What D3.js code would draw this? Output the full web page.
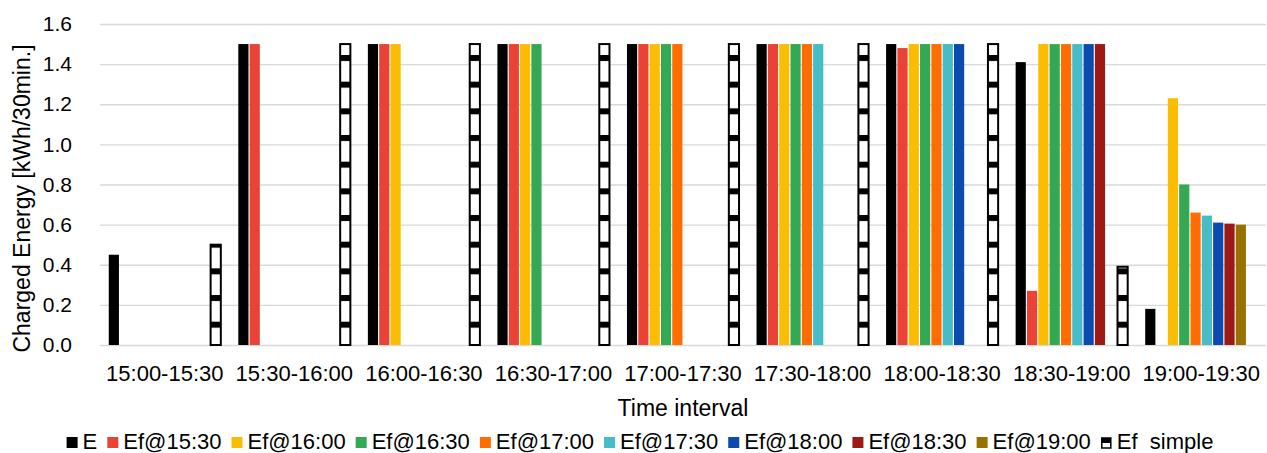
<!DOCTYPE html>
<html>
<head>
<meta charset="utf-8">
<script src="https://cdn.jsdelivr.net/npm/d3@7"></script>
<style>
  html, body { margin: 0; padding: 0; background: #fff; }
  svg { display: block; font-family: "Liberation Sans", Arial, sans-serif; }
</style>
</head>
<body>
<svg id="chart" width="1267" height="453"></svg>
<script>
// Half-hour charging intervals
const categories = ["15:00-15:30", "15:30-16:00", "16:00-16:30", "16:30-17:00", "17:00-17:30",
                    "17:30-18:00", "18:00-18:30", "18:30-19:00", "19:00-19:30"];

// Series names (legend order) and their values per interval; null = no bar
const seriesNames = ["E", "Ef@15:30", "Ef@16:00", "Ef@16:30", "Ef@17:00",
                     "Ef@17:30", "Ef@18:00", "Ef@18:30", "Ef@19:00", "Ef  simple"];

const valE      = [0.45, 1.5, 1.5, 1.5, 1.5, 1.5, 1.5, 1.41, 0.18];
const valEf1530 = [null, 1.5, 1.5, 1.5, 1.5, 1.5, 1.48, 0.27, null];
const valEf1600 = [null, null, 1.5, 1.5, 1.5, 1.5, 1.5, 1.5, 1.23];
const valEf1630 = [null, null, null, 1.5, 1.5, 1.5, 1.5, 1.5, 0.80];
const valEf1700 = [null, null, null, null, 1.5, 1.5, 1.5, 1.5, 0.66];
const valEf1730 = [null, null, null, null, null, 1.5, 1.5, 1.5, 0.645];
const valEf1800 = [null, null, null, null, null, null, 1.5, 1.5, 0.61];
const valEf1830 = [null, null, null, null, null, null, null, 1.5, 0.605];
const valEf1900 = [null, null, null, null, null, null, null, null, 0.60];
const valSimple = [0.50, 1.5, 1.5, 1.5, 1.5, 1.5, 1.5, 0.39, null];

const seriesValues = [valE, valEf1530, valEf1600, valEf1630, valEf1700,
                      valEf1730, valEf1800, valEf1830, valEf1900, valSimple];

const yTicks = [0, 0.2, 0.4, 0.6, 0.8, 1.0, 1.2, 1.4, 1.6];

const colors = ["#000000", "#ea4335", "#fbbc04", "#34a853", "#ff6d01",
                "#46bdc6", "#0b4bae", "#9b1b14", "#997100", "url(#stripes)"];

const svg = d3.select("#chart");
const plot = { left: 100, right: 1266, top: 24, bottom: 345 };

// Horizontal stripe pattern for the "simple" series
const defs = svg.append("defs");
const pat = defs.append("pattern")
  .attr("id", "stripes")
  .attr("patternUnits", "userSpaceOnUse")
  .attr("x", 0).attr("y", 55)
  .attr("width", 20).attr("height", 26.67);
pat.append("rect").attr("width", 20).attr("height", 26.67).attr("fill", "#fff");
pat.append("rect").attr("width", 20).attr("height", 6).attr("fill", "#000");

const x0 = d3.scaleBand().domain(categories).range([plot.left, plot.right]).padding(0);
const x1 = d3.scaleBand().domain(seriesNames)
  .range([8.75, x0.bandwidth() - 8.75]).paddingInner(0.1).paddingOuter(0);
const y = d3.scaleLinear().domain([0, 1.6]).range([plot.bottom, plot.top]);

// Gridlines and y tick labels
const yAxis = d3.axisLeft(y).tickValues(yTicks).tickFormat(d3.format(".1f"))
  .tickSize(-(plot.right - plot.left)).tickPadding(28);
const gy = svg.append("g").attr("transform", `translate(${plot.left},0)`).call(yAxis);
gy.select(".domain").remove();
gy.selectAll(".tick line").attr("stroke", "#d9d9d9").attr("stroke-width", 1.3);
gy.selectAll(".tick text").attr("fill", "#000").attr("font-size", 21)
  .attr("font-family", "Liberation Sans, Arial, sans-serif");

// Bars
const groups = svg.append("g").selectAll("g")
  .data(categories).join("g")
  .attr("transform", d => `translate(${x0(d)},0)`);

groups.selectAll("rect")
  .data((c, ci) => seriesNames.map((s, si) => ({ s, si, v: seriesValues[si][ci] }))
    .filter(d => d.v !== null))
  .join("rect")
  .attr("x", d => x1(d.s))
  .attr("width", x1.bandwidth())
  .attr("y", d => y(d.v))
  .attr("height", d => y(0) - y(d.v))
  .attr("fill", d => colors[d.si])
  .attr("stroke", d => d.si === 9 ? "#000" : "none")
  .attr("stroke-width", d => d.si === 9 ? 2 : 0);

// X axis labels
const xAxis = d3.axisBottom(x0).tickSize(0).tickPadding(20);
const gx = svg.append("g").attr("transform", `translate(0,${plot.bottom})`).call(xAxis);
gx.select(".domain").remove();
gx.selectAll(".tick text").attr("fill", "#000").attr("font-size", 22)
  .attr("font-family", "Liberation Sans, Arial, sans-serif");

// Axis titles
svg.append("text")
  .attr("x", (plot.left + plot.right) / 2).attr("y", 416)
  .attr("text-anchor", "middle").attr("font-size", 23).attr("fill", "#000")
  .text("Time interval");

svg.append("text")
  .attr("transform", `translate(30,${(plot.top + plot.bottom) / 2 + 14}) rotate(-90)`)
  .attr("text-anchor", "middle").attr("font-size", 23).attr("fill", "#000")
  .text("Charged Energy [kWh/30min.]");

// Legend, centred under the chart
const legend = svg.append("g");
const sw = 11, gapText = 5, gapItem = 10;
let cx = 0;
seriesNames.forEach((name, i) => {
  const g = legend.append("g").attr("transform", `translate(${cx},0)`);
  if (i === 9) {
    g.append("rect").attr("x", 1).attr("y", -11).attr("width", sw - 2).attr("height", sw - 1)
      .attr("fill", "#fff").attr("stroke", "#000").attr("stroke-width", 1.5);
    g.append("rect").attr("x", 1).attr("y", -11).attr("width", sw - 2).attr("height", 5).attr("fill", "#000");
  } else {
    g.append("rect").attr("y", -12).attr("width", sw).attr("height", sw).attr("fill", colors[i]);
  }
  const t = g.append("text").attr("x", sw + gapText).attr("y", 0)
    .attr("font-size", 22).attr("fill", "#000").attr("xml:space", "preserve")
    .style("white-space", "pre").text(name);
  cx += sw + gapText + t.node().getComputedTextLength() + gapItem;
});
const legendWidth = cx - gapItem;
legend.attr("transform", `translate(${640 - legendWidth / 2},449)`);
</script>
</body>
</html>
